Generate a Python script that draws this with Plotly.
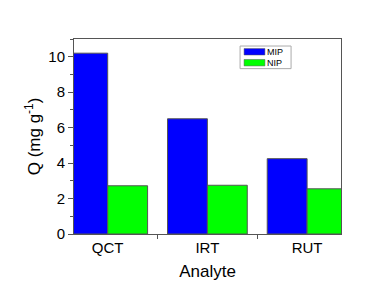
import plotly.graph_objects as go

categories = ["QCT", "IRT", "RUT"]
mip = [10.2, 6.5, 4.25]
nip = [2.72, 2.75, 2.55]
series_names = ["MIP", "NIP"]
series_colors = ["#0000FF", "#00FF00"]

fig = go.Figure()
for name, vals, col in zip(series_names, [mip, nip], series_colors):
    fig.add_trace(go.Bar(name=name, x=categories, y=vals,
                         marker=dict(color=col, line=dict(color="#555555", width=1))))

# compact legend (box, swatches, labels) in paper coordinates
fig.add_shape(type="rect", xref="paper", yref="paper", x0=0.622, x1=0.813, y0=0.848, y1=0.964,
              line=dict(color="#aaaaaa", width=1), fillcolor="white", layer="above")
sw_y = [(0.918, 0.951), (0.862, 0.895)]
for (y0, y1), name, col in zip(sw_y, series_names, series_colors):
    fig.add_shape(type="rect", xref="paper", yref="paper", x0=0.637, x1=0.715, y0=y0, y1=y1,
                  line=dict(color="#555555", width=0.5), fillcolor=col, layer="above")
    fig.add_annotation(xref="paper", yref="paper", x=0.72, y=(y0 + y1) / 2, text=name,
                       showarrow=False, xanchor="left", yanchor="middle", borderpad=0,
                       font=dict(size=9, color="black"))

fig.update_layout(
    width=370, height=297,
    margin=dict(l=66, r=37, t=31, b=71, autoexpand=False),
    paper_bgcolor="white", plot_bgcolor="white",
    barmode="group", bargap=0.2, bargroupgap=0,
    showlegend=False,
    font=dict(family="Liberation Sans, Arial", color="black"),
    xaxis=dict(range=[-0.338, 2.34], showline=True, linecolor="#555555", linewidth=1, mirror=True,
               ticks="outside", tickson="boundaries", ticklen=4, tickcolor="#555555",
               tickfont=dict(size=15), title=dict(text="Analyte", font=dict(size=17), standoff=10),
               showgrid=False, automargin=False),
    yaxis=dict(range=[0, 11], showline=True, linecolor="#555555", linewidth=1, mirror=True,
               ticks="outside", ticklen=5, tickcolor="#555555", dtick=2, tick0=0,
               minor=dict(ticks="outside", dtick=1, ticklen=3, tickcolor="#555555", showgrid=False),
               tickfont=dict(size=15), title=dict(text="Q (mg g<sup>-1</sup>)", font=dict(size=17), standoff=3),
               showgrid=False, zeroline=False, automargin=False),
)

fig.write_html("out.html")
